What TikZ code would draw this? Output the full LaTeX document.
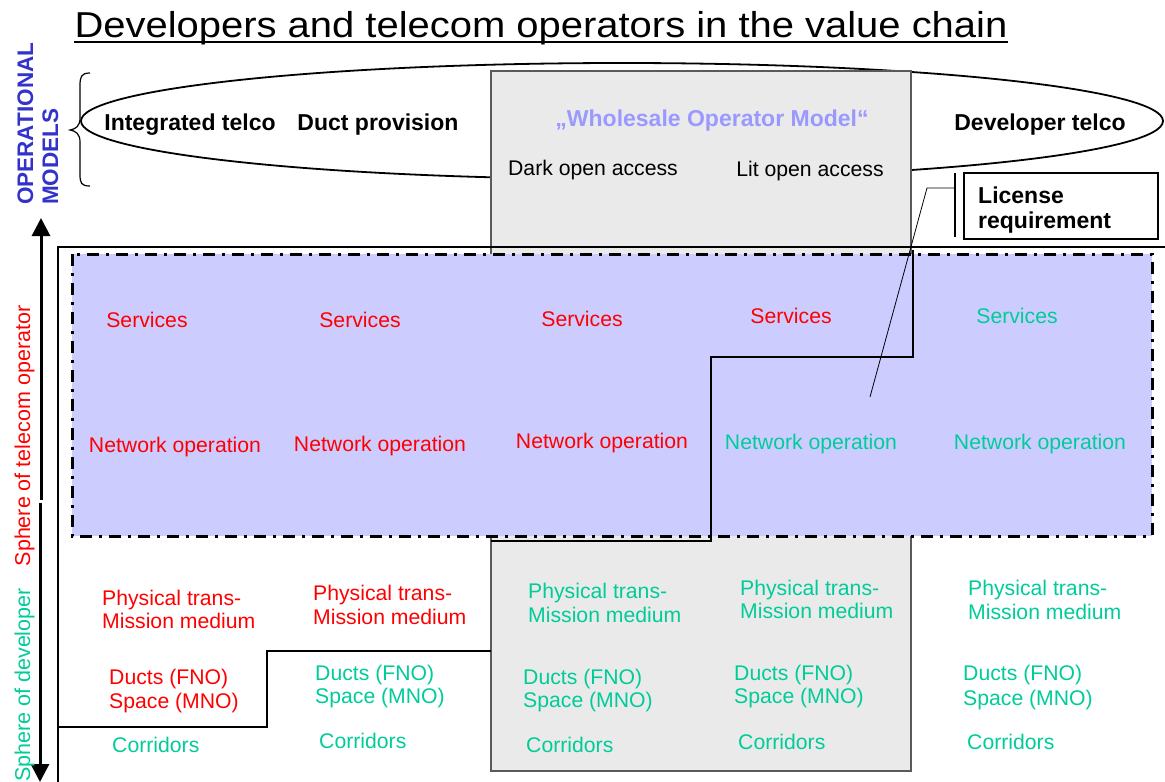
\documentclass[tikz,border=0pt]{standalone}
\usepackage{fontspec}
\setmainfont{Liberation Sans}
\usetikzlibrary{arrows.meta}
\definecolor{opred}{RGB}{255,0,0}
\definecolor{devgreen}{RGB}{0,204,153}
\definecolor{modelblue}{RGB}{51,51,204}
\definecolor{wholesale}{RGB}{153,153,255}
\definecolor{telcofill}{RGB}{204,204,255}
\definecolor{boxgray}{RGB}{234,234,234}
\definecolor{edgegray}{RGB}{90,90,90}
\begin{document}
\begin{tikzpicture}[x=1pt,y=-1pt,
  lbl/.style={inner sep=0, font=\fontsize{21.2}{24}\selectfont},
  bold lbl/.style={inner sep=0, font=\fontsize{23}{27}\selectfont\bfseries},
  telco/.style={lbl, text=opred},
  dev/.style={lbl, text=devgreen},
  side/.style={inner sep=0, rotate=90, anchor=base},
  stair/.style={line width=2.5pt, line join=miter},
  dashdot frame/.style={line width=3pt, dash pattern=on 12pt off 7pt on 3pt off 7pt}]
\useasboundingbox (0,0) rectangle (1165,782);

% heading
\node[inner sep=0, anchor=base, font=\fontsize{36}{42}\selectfont] (title) at (541,37)
  {\scalebox{1.11}[1]{Developers and telecom operators in the value chain}};
\draw[line width=1.8pt] ([yshift=-5pt]title.base west) -- ([yshift=-5pt]title.base east);

% operational models
\draw[line width=1.8pt] (622,121) ellipse [x radius=541, y radius=58];
\draw[line width=1.2pt] (90,73) .. controls (81,73) and (80,77) .. (80,86) -- (80,118)
  .. controls (80,126) and (76,129) .. (70,130) .. controls (76,131) and (80,134) .. (80,142)
  -- (80,174) .. controls (80,183) and (81,186) .. (90,186);

% wholesale column
\draw[edgegray, fill=boxgray, line width=1.2pt] (491,71) rectangle (911,771);

% outer frame
\draw[line width=1.1pt] (58,782) -- (58,247) -- (1165,247);

% telecom operator sphere
\draw[dashdot frame, fill=telcofill] (72,254) rectangle (1152,536);

% boundary between operator and developer
\draw[stair] (58,727) -- (267,727) -- (267,651) -- (491,651);
\draw[stair] (491,541) -- (711,541) -- (711,357) -- (913,357) -- (913,250);

% licence callout
\node[draw, line width=1.1pt, minimum width=194pt, minimum height=66pt, inner sep=0] (lic) at (1061,206) {};
\node[bold lbl, anchor=base west] (lic1) at (978,203) {License};
\node[bold lbl, anchor=base west] (lic2) at (978,228) {requirement};
\coordinate (callfoot) at (870,397);
\coordinate (callknee) at (927,188);
\coordinate (callbar) at (955,188);
\draw[line width=0.8pt] (callfoot) -- (callknee) -- (callbar);
\draw[line width=1.1pt] (955,173) -- (955,237);

% side arrows
\draw[line width=3pt, -{Triangle[width=18pt,length=18pt]}] (41,500) -- (41,218);
\draw[line width=3pt, -{Triangle[width=18pt,length=18pt]}] (40,503) -- (40,782);

% side captions
\node[inner sep=0, rotate=90, anchor=base west, font=\fontsize{22.5}{26}\selectfont\bfseries, text=modelblue] (om1) at (33,205) {OPERATIONAL};
\node[inner sep=0, rotate=90, anchor=base west, font=\fontsize{22.5}{26}\selectfont\bfseries, text=modelblue] (om2) at (58,205) {MODELS};
\node[side, font=\fontsize{21.5}{24}\selectfont, text=opred] (sto) at (30,436) {Sphere of telecom operator};
\node[side, font=\fontsize{21.5}{24}\selectfont, text=devgreen] (sdev) at (30,685) {Sphere of developer};

% model names
\node[bold lbl, anchor=base] (m1) at (190,130) {Integrated telco};
\node[bold lbl, anchor=base] (m2) at (378,130) {Duct provision};
\node[bold lbl, anchor=base, text=wholesale] (m3) at (712,126) {„Wholesale Operator Model“};
\node[bold lbl, anchor=base] (m4) at (1040,130) {Developer telco};
\node[lbl, anchor=base] (m5) at (593,175) {Dark open access};
\node[lbl, anchor=base] (m6) at (810,176) {Lit open access};

% services
\node[telco, anchor=base] (s1) at (147,327) {Services};
\node[telco, anchor=base] (s2) at (360,327) {Services};
\node[telco, anchor=base] (s3) at (582,326) {Services};
\node[telco, anchor=base] (s4) at (791,323) {Services};
\node[dev, anchor=base] (s5) at (1017,323) {Services};

% network operation
\node[telco, anchor=base] (n1) at (175,452) {Network operation};
\node[telco, anchor=base] (n2) at (380,451) {Network operation};
\node[telco, anchor=base] (n3) at (602,448) {Network operation};
\node[dev, anchor=base] (n4) at (811,449) {Network operation};
\node[dev, anchor=base] (n5) at (1040,449) {Network operation};

% physical transmission medium
\node[telco, anchor=base west] (p1a) at (102,605) {Physical trans-};
\node[telco, anchor=base west] (p1b) at (102,628) {Mission medium};
\node[telco, anchor=base west] (p2a) at (313,600) {Physical trans-};
\node[telco, anchor=base west] (p2b) at (313,624) {Mission medium};
\node[dev, anchor=base west] (p3a) at (528,598) {Physical trans-};
\node[dev, anchor=base west] (p3b) at (528,622) {Mission medium};
\node[dev, anchor=base west] (p4a) at (740,595) {Physical trans-};
\node[dev, anchor=base west] (p4b) at (740,618) {Mission medium};
\node[dev, anchor=base west] (p5a) at (968,595) {Physical trans-};
\node[dev, anchor=base west] (p5b) at (968,619) {Mission medium};

% ducts and space
\node[telco, anchor=base west] (d1a) at (109,684) {Ducts (FNO)};
\node[telco, anchor=base west] (d1b) at (109,708) {Space (MNO)};
\node[dev, anchor=base west] (d2a) at (315,680) {Ducts (FNO)};
\node[dev, anchor=base west] (d2b) at (315,703) {Space (MNO)};
\node[dev, anchor=base west] (d3a) at (523,684) {Ducts (FNO)};
\node[dev, anchor=base west] (d3b) at (523,707) {Space (MNO)};
\node[dev, anchor=base west] (d4a) at (734,680) {Ducts (FNO)};
\node[dev, anchor=base west] (d4b) at (734,703) {Space (MNO)};
\node[dev, anchor=base west] (d5a) at (963,680) {Ducts (FNO)};
\node[dev, anchor=base west] (d5b) at (963,705) {Space (MNO)};

% corridors
\node[dev, anchor=base west] (c1) at (112,752) {Corridors};
\node[dev, anchor=base west] (c2) at (319,748) {Corridors};
\node[dev, anchor=base west] (c3) at (526,752) {Corridors};
\node[dev, anchor=base west] (c4) at (738,749) {Corridors};
\node[dev, anchor=base west] (c5) at (967,749) {Corridors};
\end{tikzpicture}
\end{document}
